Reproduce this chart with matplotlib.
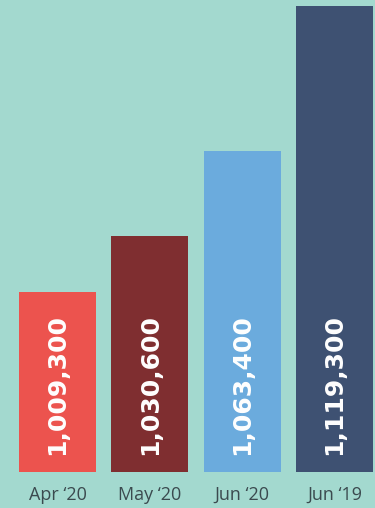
import matplotlib
matplotlib.use("Agg")
import matplotlib.pyplot as plt

# data
CATEGORIES = ["Apr \u201820", "May \u201820", "Jun \u201820", "Jun \u201819"]
VALUES = [1009300, 1030600, 1063400, 1119300]
COLORS = ["#ec534e", "#7f2e30", "#6babdd", "#3e5172"]
BG = "#a3d9cf"

fig = plt.figure(figsize=(3.75, 5.08), dpi=100, facecolor=BG)
ax = fig.add_axes([0, 36 / 508, 1, 472 / 508])
ax.set_facecolor(BG)

xs = range(len(VALUES))
ax.bar(xs, VALUES, width=0.834, color=COLORS)

ax.set_xlim(-0.623, 3.44)
ax.set_ylim(940000, 1121500)

for x, v in zip(xs, VALUES):
    ax.annotate(f"{v:,}", xy=(x, 940000), xytext=(0, 17),
                textcoords="offset pixels", rotation=90,
                ha="center", va="bottom", color="white",
                fontsize=18, fontweight="heavy", family="DejaVu Sans")

ax.set_xticks(list(xs))
ax.set_xticklabels(CATEGORIES, fontsize=13, color="#3b4a4f", family="Open Sans")
ax.tick_params(axis="x", length=0, pad=10)
ax.set_yticks([])
for s in ax.spines.values():
    s.set_visible(False)

fig.savefig("out.png", dpi=100, facecolor=BG)
